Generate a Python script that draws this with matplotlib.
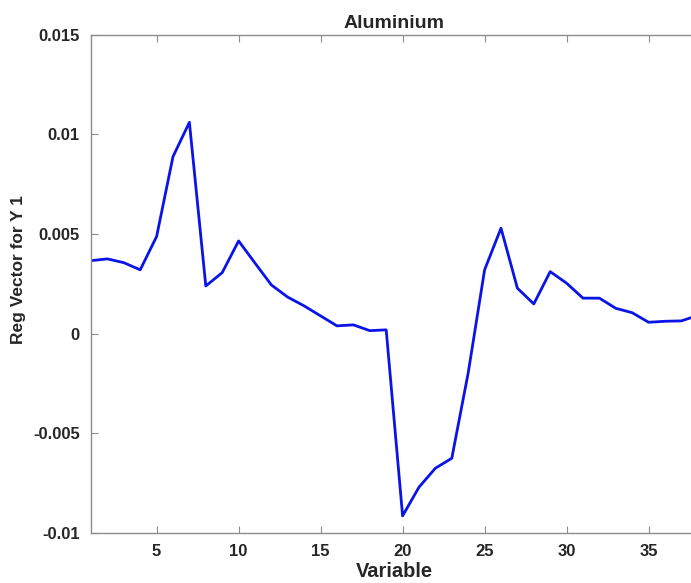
import numpy as np
import matplotlib
matplotlib.use("Agg")
import matplotlib.pyplot as plt

# ---------------------------------------------------------------------
# DATA
# ---------------------------------------------------------------------
variable = list(range(1, 39))
reg_vector = [
    0.00366, 0.00375, 0.00356, 0.00320, 0.00487, 0.00888, 0.01060, 0.00239,
    0.00306, 0.00465, 0.00354, 0.00244, 0.00183, 0.00139, 0.00089, 0.00039,
    0.00044, 0.00015, 0.00019, -0.00914, -0.00770, -0.00675, -0.00625, -0.00197,
    0.00320, 0.00529, 0.00228, 0.00149, 0.00311, 0.00253, 0.00178, 0.00178,
    0.00127, 0.00105, 0.00057, 0.00062, 0.00064, 0.00091,
]
x_ticks = [5, 10, 15, 20, 25, 30, 35]
y_ticks = [-0.01, -0.005, 0, 0.005, 0.01, 0.015]
y_tick_labels = ["-0.01", "-0.005", "0", "0.005", "0.01", "0.015"]

TEXT_COLOR = "#262626"
AXIS_COLOR = "#8c8c8c"

plt.rcParams["font.family"] = ["Liberation Sans", "DejaVu Sans"]

# ---------------------------------------------------------------------
# PLOT
# ---------------------------------------------------------------------
fig = plt.figure(figsize=(6.91, 5.83), dpi=100)
W, H = 691, 583
left_px, right_px = 91, 697.8
top_px, bottom_px = 34.6, 533.0
ax = fig.add_axes([left_px / W, 1 - bottom_px / H,
                   (right_px - left_px) / W, (bottom_px - top_px) / H])

ax.plot(variable, reg_vector, color="#0a14e6", linewidth=2.0)

ax.set_xlim(1, 38)
ax.set_ylim(-0.01, 0.015)
ax.set_xticks(x_ticks)
ax.set_xticklabels([str(t) for t in x_ticks])
ax.set_yticks(y_ticks)
ax.set_yticklabels(y_tick_labels)

for side in ["left", "right", "top", "bottom"]:
    ax.spines[side].set_color(AXIS_COLOR)
    ax.spines[side].set_linewidth(1.0)

ax.tick_params(direction="in", length=5, width=0.8, color=AXIS_COLOR,
               top=True, right=True, labelsize=12, labelcolor=TEXT_COLOR,
               pad=8)
for lbl in ax.get_xticklabels() + ax.get_yticklabels():
    lbl.set_fontweight("bold")

ax.set_title("Aluminium", fontsize=14, fontweight="bold", color=TEXT_COLOR,
             y=1.013, pad=0)
ax.set_xlabel("Variable", fontsize=14.5, fontweight="bold", color=TEXT_COLOR)
ax.xaxis.set_label_coords(0.5, -0.058)
ax.set_ylabel("Reg Vector for Y 1", fontsize=12.5, fontweight="bold",
              color=TEXT_COLOR)
ax.yaxis.set_label_coords(-0.107, 0.528)

fig.savefig("out.png", dpi=100)
